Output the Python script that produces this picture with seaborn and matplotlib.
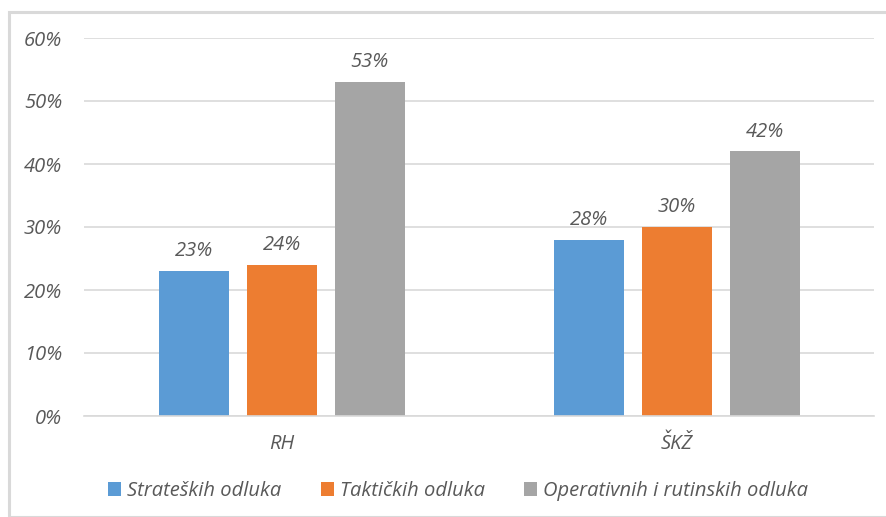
import matplotlib
matplotlib.use("Agg")
import matplotlib.pyplot as plt
import seaborn as sns
import pandas as pd
from matplotlib.patches import Rectangle, Patch

categories = ["RH", "ŠKŽ"]
series = ["Strateških odluka", "Taktičkih odluka", "Operativnih i rutinskih odluka"]
strateske = [0.23, 0.28]
takticke = [0.24, 0.30]
operativne = [0.53, 0.42]
yticks = [0.0, 0.1, 0.2, 0.3, 0.4, 0.5, 0.6]

colors = ["#5B9BD5", "#ED7D31", "#A5A5A5"]
text_color = "#595959"
grid_color = "#D9D9D9"
fs = 14.5

df = pd.DataFrame({
    "kategorija": categories * 3,
    "serija": [series[0]] * 2 + [series[1]] * 2 + [series[2]] * 2,
    "udio": strateske + takticke + operativne,
})

sns.set_theme(style="white")
plt.rcParams["font.family"] = ["Open Sans", "DejaVu Sans"]

W, H = 887, 517
fig = plt.figure(figsize=(W / 100, H / 100), dpi=100)

# light frame around the chart area
fig.patches.append(Rectangle((9 / W, 0), 1 - 9 / W + 0.01, 1 - 12 / H,
                             transform=fig.transFigure, fill=False,
                             edgecolor=grid_color, linewidth=2.2))

ax = fig.add_axes([84.5 / W, (H - 416) / H, 790 / W, (416 - 38) / H])

sns.barplot(data=df, x="kategorija", y="udio", hue="serija",
            hue_order=series, order=categories, palette=colors,
            width=0.667, gap=0.21, ax=ax, legend=False,
            saturation=1, edgecolor="none")

ax.set_ylim(0, 0.6)
ax.set_xlim(-0.5, 1.5)
ax.set_yticks(yticks)
ax.set_yticklabels([f"{int(round(t * 100))}%" for t in yticks])
ax.grid(axis="y", color=grid_color, linewidth=1.2)
ax.set_axisbelow(True)
for s in ["left", "right", "top"]:
    ax.spines[s].set_visible(False)
ax.spines["bottom"].set_color(grid_color)
ax.spines["bottom"].set_linewidth(1.2)
ax.set_xlabel("")
ax.set_ylabel("")
ax.tick_params(axis="both", length=0, labelsize=fs, colors=text_color)
ax.tick_params(axis="y", pad=16)
ax.tick_params(axis="x", pad=13)
for lbl in ax.get_xticklabels() + ax.get_yticklabels():
    lbl.set_fontstyle("italic")
    lbl.set_color(text_color)

for cont in ax.containers:
    ax.bar_label(cont, labels=[f"{int(round(v * 100))}%" for v in cont.datavalues],
                 padding=7, fontsize=fs, fontstyle="italic", color=text_color)

handles = [Patch(facecolor=c, edgecolor="none") for c in colors]
leg = fig.legend(handles, series, loc="center", bbox_to_anchor=(458 / W, 1 - 491 / H),
                 ncol=3, frameon=False, fontsize=fs, handlelength=0.65,
                 handleheight=0.65, handletextpad=0.3, columnspacing=1.95)
for t in leg.get_texts():
    t.set_fontstyle("italic")
    t.set_color(text_color)

fig.savefig("out.png", dpi=100)
